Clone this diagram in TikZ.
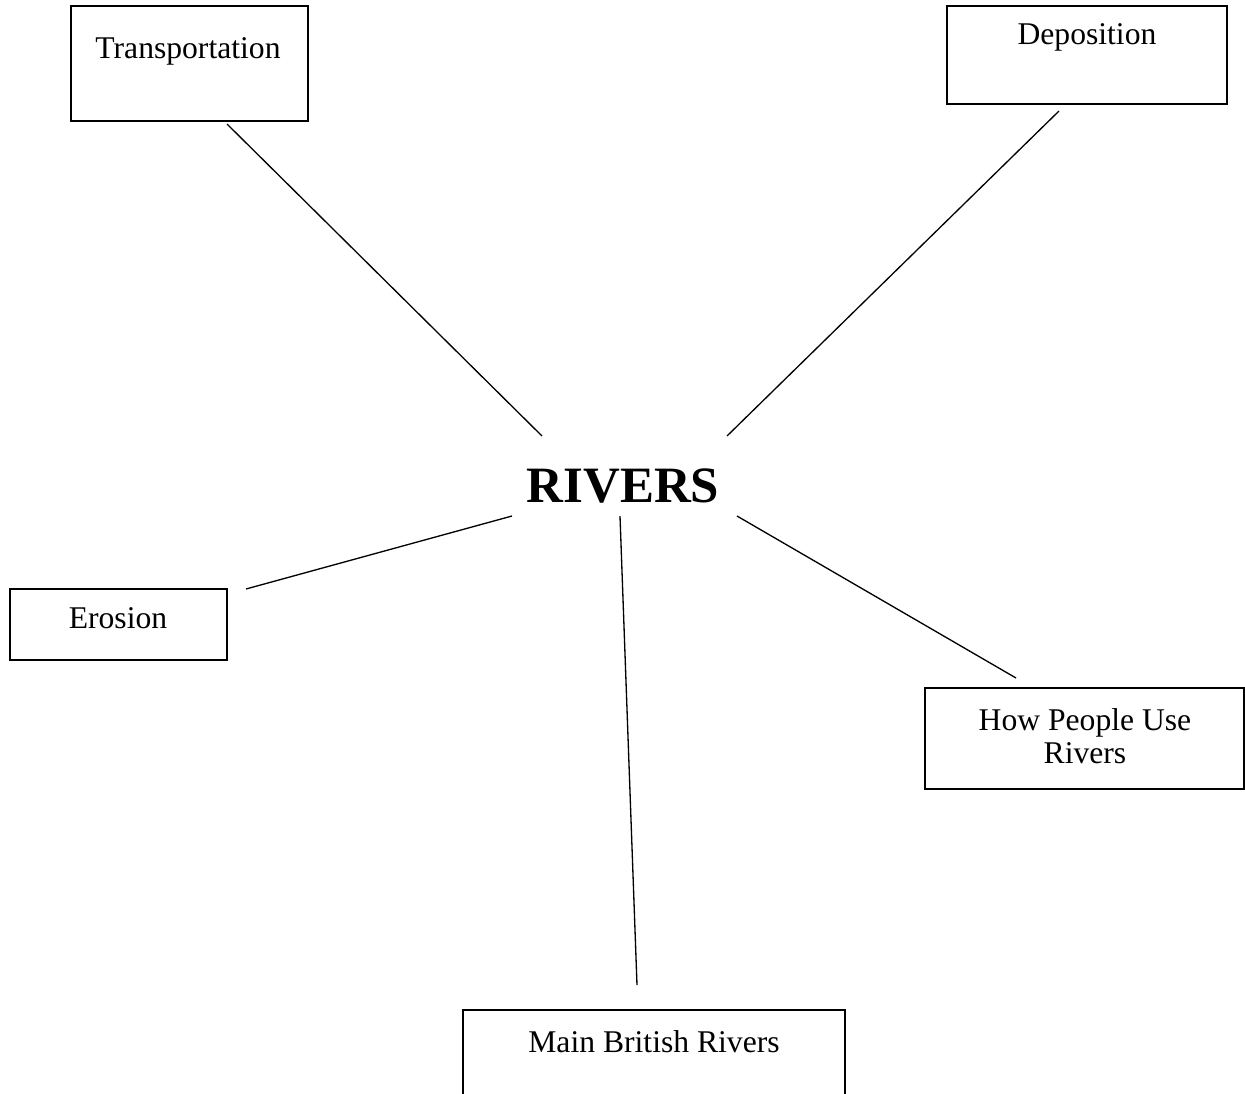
\documentclass[tikz,border=0pt]{standalone}
\usepackage{fontspec}
\setmainfont{Liberation Serif}
\usetikzlibrary{fit}
\begin{document}
\begin{tikzpicture}[x=0.02cm,y=-0.02cm,
  box/.style={draw=black,line width=1.1pt,inner sep=0pt},
  lbl/.style={font=\fontsize{18}{18.5}\selectfont,align=center,inner sep=0pt},
  title/.style={font=\fontsize{29}{33}\selectfont\bfseries,inner sep=0pt},
  conn/.style={draw=black,line width=0.75pt}]
\useasboundingbox (0,0) rectangle (1245,1093);
\clip (0,0) rectangle (1245,1093);
% boxes
\node[box,fit={(71,6) (308,121)}] (trans) {};
\node[box,fit={(947,6) (1227,104)}] (depo) {};
\node[box,fit={(10,589) (227,660)}] (eros) {};
\node[box,fit={(925,688) (1244,789)}] (how) {};
\node[box,fit={(463,1010) (845,1130)}] (main) {};
% texts
\node[lbl] (transT) at (188,51) {Transportation};
\node[lbl] (depoT) at (1087,37) {Deposition};
\node[lbl] (erosT) at (118,618) {Erosion};
\node[lbl] (howT) at (1085,736) {How People Use\\Rivers};
\node[lbl] (mainT) at (654,1042) {Main British Rivers};
\node[title] (rivers) at (623,486) {RIVERS};
% connector end points
\coordinate (a1) at (227,124); \coordinate (a2) at (542,436);
\coordinate (b1) at (1059,111); \coordinate (b2) at (727,436);
\coordinate (c1) at (512,516); \coordinate (c2) at (246,589);
\coordinate (d1) at (620,516); \coordinate (d2) at (637,985);
\coordinate (e1) at (737,516); \coordinate (e2) at (1016,678);
\draw[conn] (a1) -- (a2);
\draw[conn] (b1) -- (b2);
\draw[conn] (c1) -- (c2);
\draw[conn] (d1) -- (d2);
\draw[conn] (e1) -- (e2);
\end{tikzpicture}
\end{document}
